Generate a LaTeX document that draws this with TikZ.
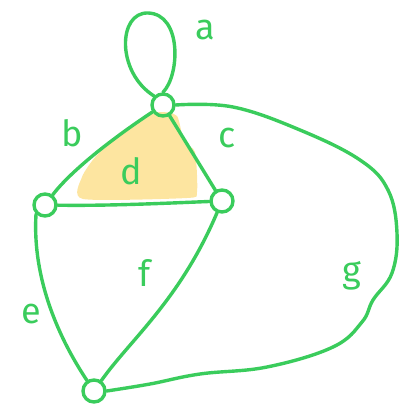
\documentclass[tikz,border=0pt]{standalone}
\usepackage{fontspec}
\setmainfont{Fira Sans}
\definecolor{pen}{RGB}{58,204,92}
\definecolor{hl}{RGB}{253,229,160}
\begin{document}
\begin{tikzpicture}[x=1pt,y=-1pt,
  edge/.style={draw=pen,line width=3.4pt,line cap=round,line join=round},
  vtx/.style={circle,draw=pen,line width=3.4pt,minimum size=22pt,inner sep=0pt},
  lbl/.style={text=pen,font=\fontsize{36}{36}\selectfont,inner sep=0pt}]
\useasboundingbox (0,0) rectangle (401,419);
% highlighted face
\fill[hl] plot[smooth cycle,tension=0.4] coordinates {(83,199) (82,177) (97,155) (123,133) (143,118) (160,112) (177,116) (184,142) (195,152) (197,192) (187,198)};
% vertices
\node[vtx] (T) at (163,105) {};
\node[vtx] (L) at (45,205) {};
\node[vtx] (R) at (222,201) {};
\node[vtx] (B) at (94,391) {};
% loop a
\draw[edge] (T.north) .. controls (180,75) and (182,14) .. (148,13)
  .. controls (118,12) and (116,72) .. (T.north west);
% edges
\draw[edge] (T) .. controls (110,140) and (70,172) .. (L);
\draw[edge] (T) -- (R);
\draw[edge] (L) .. controls (110,206) and (170,203) .. (R);
\draw[edge] (L.south west) .. controls (32,280) and (60,340) .. (B);
\draw[edge] (R) .. controls (180,300) and (130,340) .. (B);
\draw[edge] plot[smooth,tension=0.65] coordinates {(T.east) (233,107) (300,130) (360,160) (388,190) (397,233) (392,273) (373,300) (362,322) (333,347) (267,367) (200,374) (150,384) (B.east)};
% labels
\node[lbl] (la) at (205,30) {a};
\node[lbl] (lb) at (72,133) {b};
\node[lbl] (lc) at (227,138) {c};
\node[lbl] (ld) at (131,171) {d};
\node[lbl] (le) at (31,314) {e};
\node[lbl] (lf) at (145,273) {f};
\node[lbl] (lg) at (352,276) {g};
\end{tikzpicture}
\end{document}
